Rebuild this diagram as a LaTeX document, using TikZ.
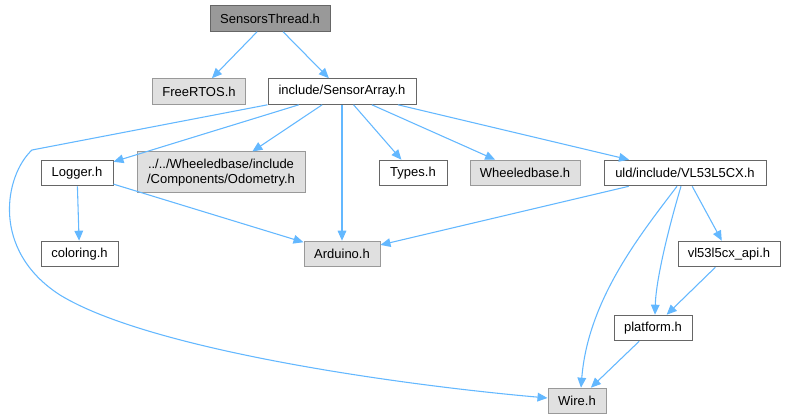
\documentclass[tikz,border=0pt]{standalone}
\usepackage{fontspec}
\setmainfont{Liberation Sans}
\usetikzlibrary{arrows.meta,calc}
\definecolor{edgec}{HTML}{63B8FF}
\definecolor{bordA}{HTML}{666666}
\definecolor{bordB}{HTML}{999999}
\definecolor{fillroot}{HTML}{999999}
\definecolor{fillext}{HTML}{E0E0E0}
\begin{document}
\begin{tikzpicture}[x=0.75pt,y=-0.75pt,
  box/.style={draw=bordA, fill=white, line width=0.75pt, inner sep=0pt,
    minimum height=19.2pt, font=\fontsize{9.75}{11.3}\selectfont, text=black, align=center},
  extbox/.style={box, draw=bordB, fill=fillext},
  rootbox/.style={box, draw=bordA, fill=fillroot},
  edge/.style={draw=edgec, line width=0.8pt, -{Triangle[length=7.5pt,width=6.5pt]}}]
\fill[white] (0,0) rectangle (786,420);
\useasboundingbox (0,0) rectangle (786,420);
% nodes
\node[rootbox, minimum width=90pt] (st) at (270,18.5) {SensorsThread.h};
\node[extbox, minimum width=69.75pt] (fr) at (199,91.5) {FreeRTOS.h};
\node[box, minimum width=111pt] (sa) at (342,91.5) {include/SensorArray.h};
\node[box, minimum width=54pt] (lg) at (77,173) {Logger.h};
\node[extbox, minimum width=126pt, minimum height=30.75pt] (od) at (221,172.5) {../../Wheeledbase/include\\/Components/Odometry.h};
\node[box, minimum width=51pt] (ty) at (413,173) {Types.h};
\node[extbox, minimum width=82.5pt] (wb) at (525,173) {Wheeledbase.h};
\node[box, minimum width=121.5pt] (vl) at (685,173) {uld/include/VL53L5CX.h};
\node[box, minimum width=57.75pt] (co) at (79.5,254) {coloring.h};
\node[extbox, minimum width=57pt] (ar) at (342,254) {Arduino.h};
\node[box, minimum width=76.5pt] (api) at (729,254) {vl53l5cx\_api.h};
\node[box, minimum width=58.5pt] (pf) at (653,328) {platform.h};
\node[extbox, minimum width=43.5pt] (wi) at (577,401) {Wire.h};
% edges
\draw[edge] (st) -- (fr);
\draw[edge] (st) -- (sa);
\draw[edge] (sa) -- (lg);
\draw[edge] (sa) -- (od);
\draw[edge] (sa) -- (ar);
\draw[edge] (sa) -- (ty);
\draw[edge] (sa) -- (wb);
\draw[edge] (sa) -- (vl);
\draw[edge] (sa.south west) -- (32,150) .. controls (5,175) and (-10,250) .. (60,295)
  .. controls (150,350) and (400,385) .. ($(wi.west)+(0,-3)$);
\draw[edge] (lg) -- (co);
\draw[edge] (lg) -- (ar);
\draw[edge] (vl) -- (ar);
\draw[edge] ($(vl.south)+(-8,0)$) .. controls (640,235) and (588,300) .. ($(wi.north)+(4,0)$);
\draw[edge] ($(vl.south)+(-4,0)$) .. controls (668,230) and (656,280) .. ($(pf.north)+(2,0)$);
\draw[edge] (vl) -- (api);
\draw[edge] (api) -- (pf);
\draw[edge] (pf) -- (wi);
\end{tikzpicture}
\end{document}
